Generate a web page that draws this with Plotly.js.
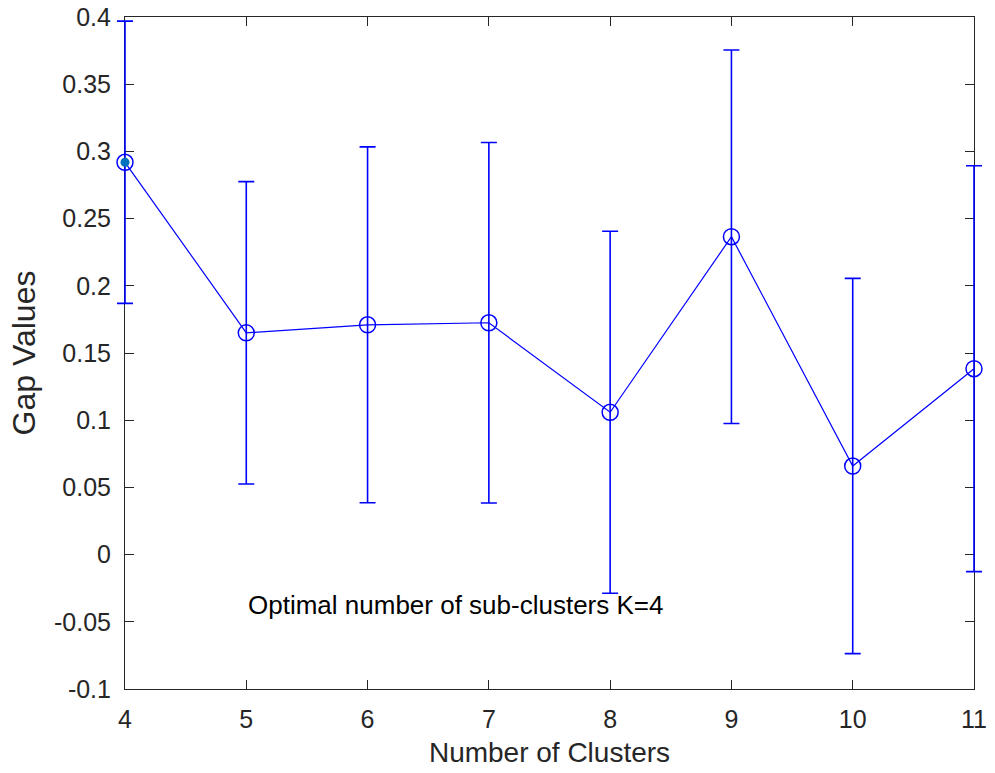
<!DOCTYPE html>
<html>
<head>
<meta charset="utf-8">
<script src="https://cdn.plot.ly/plotly-3.0.1.min.js"></script>
<style>
  html, body { margin: 0; padding: 0; background: #ffffff; }
  #chart { width: 995px; height: 773px; }
</style>
</head>
<body>
<div id="chart"></div>
<script>
// Gap statistic for each candidate number of clusters
const clusters = [4, 5, 6, 7, 8, 9, 10, 11];
const gapValues = [0.2919, 0.1650, 0.1710, 0.1725, 0.1059, 0.2365, 0.0659, 0.1383];
const gapStdErr = [0.1050, 0.1125, 0.1324, 0.1341, 0.1347, 0.1389, 0.1396, 0.1510];

// Chosen K
const optimalK = [4];
const optimalGap = [0.2919];

// Note placed inside the axes
const noteText = 'Optimal number of sub-clusters K=4';
const noteX = 5;
const noteY = -0.0375;

// Axis ticks
const xTickVals = [4, 5, 6, 7, 8, 9, 10, 11];
const xTickText = ['4', '5', '6', '7', '8', '9', '10', '11'];
const yTickVals = [-0.1, -0.05, 0, 0.05, 0.1, 0.15, 0.2, 0.25, 0.3, 0.35, 0.4];
const yTickText = ['-0.1', '-0.05', '0', '0.05', '0.1', '0.15', '0.2', '0.25', '0.3', '0.35', '0.4'];

const FONT = 'Liberation Sans, Arial, Helvetica, sans-serif';
const AXIS_COLOR = '#262626';

// Axes box in pixels; the data layer gets a little extra room on both
// sides so the error bars at the first and last cluster are not clipped.
const FIG_W = 995, FIG_H = 773;
const BOX_L = 124.5, BOX_R = 973.7, BOX_T = 17, BOX_B = 689;
const PAD = 14;
const plotW = (BOX_R - BOX_L) + 2 * PAD;
const xMin = clusters[0], xMax = clusters[clusters.length - 1];
const padData = (xMax - xMin) * PAD / (BOX_R - BOX_L);
const boxDomain = [PAD / plotW, 1 - PAD / plotW];

const traces = [
  {
    x: clusters,
    y: gapValues,
    xaxis: 'x2',
    yaxis: 'y',
    type: 'scatter',
    mode: 'lines+markers',
    cliponaxis: false,
    line: { color: '#0000ff', width: 1.2 },
    marker: { symbol: 'circle-open', size: 16, color: '#0000ff', line: { width: 1.5, color: '#0000ff' } },
    error_y: { type: 'data', array: gapStdErr, visible: true, color: '#0000ff', thickness: 1.6, width: 8 },
    hoverinfo: 'x+y'
  },
  {
    x: optimalK,
    y: optimalGap,
    xaxis: 'x2',
    yaxis: 'y',
    type: 'scatter',
    mode: 'markers',
    cliponaxis: false,
    marker: { symbol: 'circle', size: 9, color: '#0072bd' },
    hoverinfo: 'x+y'
  }
];

const axisCommon = {
  showgrid: false,
  zeroline: false,
  showline: true,
  linecolor: AXIS_COLOR,
  linewidth: 1,
  mirror: 'ticks',
  ticks: 'inside',
  ticklen: 9,
  tickwidth: 1,
  tickcolor: AXIS_COLOR,
  tickmode: 'array',
  layer: 'below traces',
  tickfont: { family: FONT, size: 25, color: AXIS_COLOR }
};

const layout = {
  width: FIG_W,
  height: FIG_H,
  margin: { l: BOX_L - PAD, r: FIG_W - BOX_R - PAD, t: BOX_T, b: FIG_H - BOX_B },
  paper_bgcolor: '#ffffff',
  plot_bgcolor: 'rgba(0,0,0,0)',
  showlegend: false,
  font: { family: FONT, color: AXIS_COLOR },
  xaxis: Object.assign({}, axisCommon, {
    domain: boxDomain,
    anchor: 'y',
    range: [xMin, xMax],
    tickvals: xTickVals,
    ticktext: xTickText,
    ticklabelstandoff: 8,
    title: { text: 'Number of Clusters', font: { family: FONT, size: 28, color: AXIS_COLOR }, standoff: 10 }
  }),
  xaxis2: {
    domain: [0, 1],
    anchor: 'y',
    range: [xMin - padData, xMax + padData],
    visible: false,
    showgrid: false,
    zeroline: false
  },
  yaxis: Object.assign({}, axisCommon, {
    anchor: 'x',
    range: [-0.1, 0.4],
    tickvals: yTickVals,
    ticktext: yTickText,
    ticklabelstandoff: 8,
    title: { text: 'Gap Values', font: { family: FONT, size: 32, color: AXIS_COLOR }, standoff: 8 }
  }),
  annotations: [
    {
      x: noteX,
      y: noteY,
      xref: 'x',
      yref: 'y',
      text: noteText,
      showarrow: false,
      xanchor: 'left',
      yanchor: 'middle',
      font: { family: FONT, size: 26, color: '#000000' }
    }
  ]
};

Plotly.newPlot('chart', traces, layout, { staticPlot: true, displayModeBar: false });
</script>
</body>
</html>
